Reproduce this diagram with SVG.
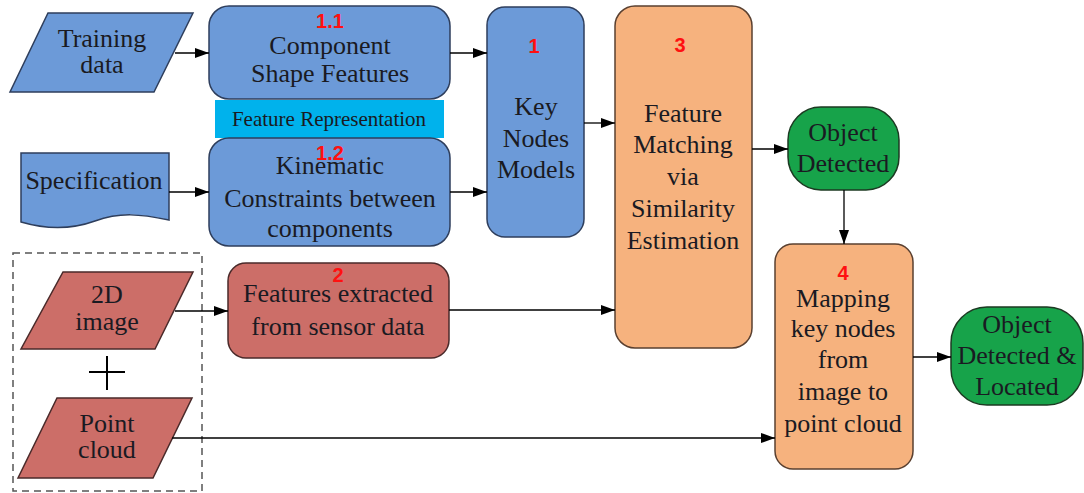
<svg xmlns="http://www.w3.org/2000/svg" width="1084" height="493" viewBox="0 0 1084 493">
<defs>
<marker id="ah" viewBox="0 0 14 10" refX="14" refY="5" markerWidth="14" markerHeight="10" markerUnits="userSpaceOnUse" orient="auto">
<path d="M0,0 L14,5 L0,10 Z" fill="#000"/>
</marker>
<style>
.t{font-family:"Liberation Serif","Times New Roman",serif;font-size:26px;fill:#1a1a22;text-anchor:middle}
.s{font-size:21px}
.n{font-family:"Liberation Sans",Arial,sans-serif;font-weight:bold;font-size:20px;fill:#ff1010;text-anchor:middle}
.blue{fill:#6c9ad8;stroke:#2e3e5c;stroke-width:1.5}
.org{fill:#f6b27e;stroke:#5a4030;stroke-width:1.5}
.red{fill:#cc6e68;stroke:#4a2a2a;stroke-width:1.5}
.grn{fill:#17a34a;stroke:#1c3a22;stroke-width:1.5}
.c{stroke:#000;stroke-width:1.3;fill:none}
</style>
</defs>
<rect width="1084" height="493" fill="#fff"/>

<g id="training">
<polygon class="blue" points="48,13 193,13 154,92 10,92"/>
<text class="t" x="102" y="47">Training</text>
<text class="t" x="102" y="73">data</text>
</g>

<g id="specification">
<path class="blue" d="M21,153 H169 V220 C140,214 120,212 95,221 C70,230 45,229 21,222 Z"/>
<text class="t" x="94" y="189">Specification</text>
</g>

<g id="component">
<rect class="blue" x="209" y="6" width="241" height="93" rx="20"/>
<text class="n" x="330" y="28">1.1</text>
<text class="t" x="330" y="54">Component</text>
<text class="t" x="330" y="82">Shape Features</text>
</g>

<g id="feature-representation">
<rect x="215" y="100" width="229" height="38" fill="#00b2ec"/>
<text class="t s" x="329" y="126">Feature Representation</text>
</g>

<g id="kinematic">
<rect class="blue" x="209" y="138" width="241" height="108" rx="20"/>
<text class="t" x="330" y="174">Kinematic</text>
<text class="t" x="330" y="207">Constraints between</text>
<text class="t" x="330" y="237">components</text>
<text class="n" x="330" y="160">1.2</text>
</g>

<g id="keynodes">
<rect class="blue" x="487" y="7" width="97" height="230" rx="18"/>
<text class="n" x="534" y="53">1</text>
<text class="t" x="536" y="115">Key</text>
<text class="t" x="536" y="147">Nodes</text>
<text class="t" x="536" y="178">Models</text>
</g>

<g id="matching">
<rect class="org" x="615" y="6" width="137" height="342" rx="20"/>
<text class="n" x="680" y="52">3</text>
<text class="t" x="683" y="122">Feature</text>
<text class="t" x="683" y="153">Matching</text>
<text class="t" x="683" y="185">via</text>
<text class="t" x="683" y="217">Similarity</text>
<text class="t" x="683" y="249">Estimation</text>
</g>

<g id="detected">
<rect class="grn" x="788" y="107" width="111" height="83" rx="33"/>
<text class="t" x="843" y="141">Object</text>
<text class="t" x="843" y="172">Detected</text>
</g>

<g id="mapping">
<rect class="org" x="775" y="244" width="138" height="225" rx="18"/>
<text class="n" x="843" y="280">4</text>
<text class="t" x="843" y="307">Mapping</text>
<text class="t" x="843" y="337">key nodes</text>
<text class="t" x="843" y="368">from</text>
<text class="t" x="843" y="400">image to</text>
<text class="t" x="843" y="432">point cloud</text>
</g>

<g id="located">
<rect class="grn" x="951" y="307" width="132" height="98" rx="36"/>
<text class="t" x="1017" y="333">Object</text>
<text class="t" x="1017" y="364">Detected &amp;</text>
<text class="t" x="1017" y="395">Located</text>
</g>

<g id="sensor-input">
<rect x="13" y="253" width="189" height="238" fill="none" stroke="#555" stroke-width="1.5" stroke-dasharray="7,5"/>
<polygon class="red" points="63,272 193,272 155,349 21,349"/>
<text class="t" x="107" y="303">2D</text>
<text class="t" x="107" y="330">image</text>
<path d="M89,372 H125 M107,356 V390" stroke="#000" stroke-width="2" fill="none"/>
<polygon class="red" points="57,398 192,398 153,478 18,478"/>
<text class="t" x="107" y="432">Point</text>
<text class="t" x="107" y="458">cloud</text>
</g>

<g id="features-extracted">
<rect class="red" x="228" y="263" width="221" height="95" rx="18"/>
<text class="n" x="338" y="282">2</text>
<text class="t" x="338" y="302">Features extracted</text>
<text class="t" x="338" y="335">from sensor data</text>
</g>

<g id="connectors">
<line class="c" x1="175" y1="53" x2="209" y2="53" marker-end="url(#ah)"/>
<line class="c" x1="169" y1="192" x2="209" y2="192" marker-end="url(#ah)"/>
<line class="c" x1="450" y1="53" x2="487" y2="53" marker-end="url(#ah)"/>
<line class="c" x1="450" y1="192" x2="487" y2="192" marker-end="url(#ah)"/>
<line class="c" x1="584" y1="123" x2="615" y2="123" marker-end="url(#ah)"/>
<line class="c" x1="752" y1="149" x2="788" y2="149" marker-end="url(#ah)"/>
<line class="c" x1="844" y1="190" x2="844" y2="244" marker-end="url(#ah)"/>
<line class="c" x1="913" y1="357" x2="951" y2="357" marker-end="url(#ah)"/>
<line class="c" x1="175" y1="311" x2="228" y2="311" marker-end="url(#ah)"/>
<line class="c" x1="449" y1="310" x2="615" y2="310" marker-end="url(#ah)"/>
<line class="c" x1="172" y1="438" x2="775" y2="438" marker-end="url(#ah)"/>
</g>
</svg>
